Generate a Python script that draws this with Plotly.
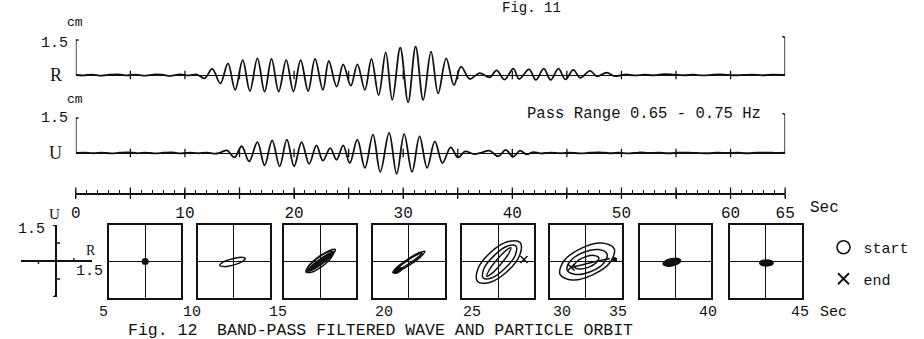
import plotly.graph_objects as go

# ---------------- data ----------------
R_T = [0, 0.7, 1.5, 2.3, 3.1, 3.9, 4.7, 5.5, 6.3, 7.1, 7.9, 8.7, 9.5, 10.3, 11.1,
       11.8, 12.5, 13.24, 13.94, 14.6, 15.29, 15.95, 16.64, 17.3, 17.93, 18.59, 19.28,
       19.94, 20.6, 21.29, 21.92, 22.64, 23.18, 23.9, 24.5, 25.2, 25.8, 26.49, 27.09,
       27.75, 28.4, 29.0, 29.73, 30.45, 31.14, 31.83, 32.55, 33.2, 33.94, 34.65, 35.3,
       36.1, 37.0, 37.93, 38.56, 39.28, 40.09, 40.63, 41.53, 42.16, 42.88, 43.51, 44.23,
       44.86, 45.59, 46.22, 47.12, 47.75, 48.65,
       49.4, 50.3, 51.2, 52.1, 53.0, 53.9, 54.8, 55.7, 56.6, 57.5, 58.4, 59.3, 60.2,
       61.1, 62.0, 62.9, 63.8, 65.0]
R_CM = [0.0, -0.02, 0.02, -0.03, 0.01, 0.03, -0.02, 0.02, -0.03, 0.02, 0.01, -0.04, 0.03, -0.02, 0.02,
        -0.14, 0.26, -0.36, 0.50, -0.64, 0.64, -0.69, 0.71, -0.71, 0.69, -0.71, 0.64,
        -0.71, 0.64, -0.69, 0.69, -0.64, 0.60, -0.50, 0.46, -0.46, 0.46, -0.64, 0.69,
        -0.86, 0.97, -1.07, 1.17, -1.17, 1.22, -1.07, 1.00, -0.79, 0.71, -0.43, 0.36,
        -0.17, 0.08, -0.10, 0.20, -0.20, 0.27, -0.17, 0.24, -0.21, 0.27, -0.21, 0.27,
        -0.19, 0.22, -0.12, 0.18, -0.06, 0.10,
        -0.05, 0.02, -0.02, 0.01, -0.01, 0.04, 0.02, -0.01, 0.01, -0.02, 0.01, 0.02, -0.01,
        0.0, 0.02, -0.01, 0.01, 0.0]

U_T = [0, 0.8, 1.6, 2.4, 3.2, 4.0, 4.8, 5.6, 6.4, 7.2, 8.0, 8.8, 9.6, 10.4, 11.2, 12.0, 12.8, 13.3,
       13.87, 14.53, 15.2, 15.88, 16.64, 17.3, 17.99, 18.68, 19.34, 20.0, 20.69, 21.38,
       22.05, 22.64, 23.31, 23.9, 24.5, 25.1, 25.8, 26.49, 27.23, 27.9, 28.71, 29.4,
       30.09, 30.81, 31.5, 32.19, 32.9, 33.6, 34.35, 35.02, 35.68, 36.5, 37.2,
       37.9, 38.7, 39.4, 40.06, 40.7, 41.3, 41.9, 42.6,
       43.5, 44.4, 45.3, 46.2, 47.1, 48.0, 48.9, 49.8, 50.7, 51.6, 52.5, 53.4, 54.3,
       55.2, 56.1, 57.0, 57.9, 58.8, 59.7, 60.6, 61.5, 62.4, 63.3, 64.2, 65.0]
U_CM = [0.0, 0.02, -0.01, 0.02, -0.02, 0.01, 0.03, -0.01, 0.02, -0.02, 0.01, 0.03, -0.02, 0.02, -0.01, 0.02, -0.03, 0.03,
        0.11, -0.19, 0.29, -0.36, 0.47, -0.53, 0.54, -0.57, 0.57, -0.57, 0.47, -0.47,
        0.33, -0.33, 0.21, -0.29, 0.33, -0.43, 0.57, -0.64, 0.79, -0.81, 0.86, -0.90,
        0.81, -0.81, 0.71, -0.64, 0.50, -0.43, 0.24, -0.19, 0.07, -0.05, 0.02,
        0.10, -0.14, 0.13, -0.16, 0.10, -0.06, 0.04, -0.02,
        0.02, -0.01, 0.02, -0.02, 0.01, 0.03, -0.01, 0.01, -0.02, 0.02, 0.0, 0.01, -0.01,
        0.01, 0.02, 0.0, -0.01, 0.01, 0.0, 0.01, -0.01, 0.01, 0.02, 0.0, 0.01]

TIME_TICKS = [0, 5, 10, 15, 20, 25, 30, 35, 40, 45, 50, 55, 60, 65]
TIME_TICK_TEXT = ["0", "", "10", "", "20", "", "30", "", "40", "", "50", "", "60", "65"]
TIME_MARKS = [5, 10, 15, 20, 25, 30, 35, 40, 45, 50, 55, 60]
SCALE_CM = 1.5
T_END = 65
ORBIT_TIME_TEXT = ["5", "10", "15", "20", "25", "30", "35", "40", "45"]

# particle orbits (R, U in cm), one list of loops per 5-s window
SQ1 = [([0.0], [0.0])]
SQ2 = [([0.48, 0.30, -0.08, -0.45, -0.58, -0.40, -0.02, 0.35, 0.48],
        [0.12, 0.17, 0.10, -0.03, -0.16, -0.21, -0.15, -0.01, 0.12])]
SQ3 = [([0.63, 0.39, -0.07, -0.47, -0.59, -0.35, 0.11, 0.51, 0.63],
        [0.49, 0.45, 0.17, -0.18, -0.39, -0.35, -0.07, 0.28, 0.49]),
       ([0.53, 0.34, -0.05, -0.41, -0.53, -0.34, 0.05, 0.41, 0.53],
        [0.38, 0.32, 0.07, -0.22, -0.38, -0.32, -0.07, 0.22, 0.38]),
       ([0.55, 0.30, -0.14, -0.50, -0.59, -0.34, 0.10, 0.46, 0.55],
        [0.39, 0.39, 0.14, -0.20, -0.43, -0.43, -0.18, 0.16, 0.39])]
SQ4 = [([0.67, 0.43, -0.07, -0.52, -0.67, -0.43, 0.07, 0.52, 0.67],
        [0.42, 0.36, 0.08, -0.26, -0.46, -0.40, -0.12, 0.22, 0.42]),
       ([0.56, 0.36, -0.07, -0.47, -0.62, -0.42, 0.01, 0.41, 0.56],
        [0.35, 0.28, 0.03, -0.26, -0.41, -0.34, -0.09, 0.20, 0.35]),
       ([-0.62, -0.40, -0.28, -0.50, -0.62],
        [-0.45, -0.25, -0.30, -0.47, -0.45])]
SQ5 = [([0.91, 0.41, -0.33, -0.86, -0.87, -0.37, 0.37, 0.90, 0.91],
        [0.78, 0.82, 0.37, -0.32, -0.82, -0.86, -0.41, 0.28, 0.78]),
       ([0.73, 0.36, -0.19, -0.61, -0.63, -0.26, 0.29, 0.71, 0.73],
        [0.64, 0.63, 0.23, -0.31, -0.68, -0.67, -0.27, 0.27, 0.64]),
       ([0.52, 0.31, -0.07, -0.40, -0.48, -0.27, 0.11, 0.44, 0.52],
        [0.57, 0.45, 0.06, -0.38, -0.61, -0.49, -0.10, 0.34, 0.57])]
SQ6 = [([1.18, 0.67, -0.20, -0.93, -1.08, -0.57, 0.30, 1.03, 1.18],
        [0.53, 0.76, 0.54, 0.01, -0.53, -0.76, -0.54, -0.01, 0.53]),
       ([0.88, 0.53, -0.11, -0.65, -0.78, -0.43, 0.21, 0.75, 0.88],
        [0.32, 0.49, 0.37, 0.02, -0.36, -0.53, -0.41, -0.06, 0.32]),
       ([0.54, 0.33, -0.06, -0.40, -0.50, -0.29, 0.10, 0.44, 0.54],
        [0.16, 0.25, 0.18, -0.02, -0.22, -0.31, -0.24, -0.04, 0.16]),
       ([-0.62, 0.20, 1.00], [-0.24, -0.05, 0.12])]
SQ7 = [([0.22, 0.10, -0.17, -0.43, -0.52, -0.40, -0.13, 0.13, 0.22],
        [0.04, 0.12, 0.11, 0.02, -0.10, -0.18, -0.17, -0.08, 0.04])]
SQ8 = [([0.30, 0.22, 0.02, -0.18, -0.26, -0.18, 0.02, 0.22, 0.30],
        [-0.06, 0.03, 0.06, 0.03, -0.06, -0.15, -0.18, -0.15, -0.06])]
SQUARES = [SQ1, SQ2, SQ3, SQ4, SQ5, SQ6, SQ7, SQ8]
END_SQ = [4, 5]            # square index of each "end" mark
END_R = [1.07, -0.62]
END_U = [0.08, -0.24]
START_SQ = [5]
START_R = [1.20]
START_U = [0.08]

# ---------------- layout (pixels) ----------------
W, H = 924, 339
T0_PX, T1_PX = 72, 793
PX_PER_CM = 23.3
R_ZERO_PX, U_ZERO_PX = 75, 153
AXIS_PX = 193
SQ_LEFT_PX = [106, 196, 284, 374, 465, 554, 645, 737]
SQ_SIZE, SQ_TOP = 73, 225
ORBIT_LABEL_PX = [100, 190, 278, 385, 475, 566, 623, 715, 808]
ORBIT_LABEL_Y = 312
FILLED = {(2, 1), (3, 2), (6, 0), (7, 0)}
INK = "#111111"
MONO = "Liberation Mono"
SERIF = "Liberation Serif"


def xd(p0, p1):
    return [p0 / W, p1 / W]


def yd(p0, p1):
    return [1 - p1 / H, 1 - p0 / H]


hidden = dict(showgrid=False, showticklabels=False, ticks="", showline=False,
              zeroline=False, fixedrange=True)

fig = go.Figure()
layout = {}

# --- R and U traces ---
for i, (name, tt, vv, zero_px, top_px, bot_px) in enumerate(
        [("R", R_T, R_CM, R_ZERO_PX, 15, 112), ("U", U_T, U_CM, U_ZERO_PX, 113, 186)]):
    xa = "xaxis" if i == 0 else "xaxis2"
    ya = "yaxis" if i == 0 else "yaxis2"
    xr = "x" if i == 0 else "x2"
    yr = "y" if i == 0 else "y2"
    layout[xa] = dict(hidden, domain=xd(T0_PX, T1_PX), range=[0, T_END], anchor=yr)
    layout[ya] = dict(hidden, domain=yd(top_px, bot_px), anchor=xr,
                      range=[-(bot_px - zero_px) / PX_PER_CM, (zero_px - top_px) / PX_PER_CM],
                      zeroline=True, zerolinecolor=INK, zerolinewidth=1.3)
    fig.add_trace(go.Scatter(x=tt, y=vv, mode="lines", xaxis=xr, yaxis=yr,
                             line=dict(color=INK, width=1.8, shape="spline", smoothing=1.0),
                             showlegend=False, hoverinfo="skip", cliponaxis=False))
    fig.add_trace(go.Scatter(x=TIME_MARKS, y=[0] * len(TIME_MARKS), mode="markers",
                             xaxis=xr, yaxis=yr, showlegend=False, hoverinfo="skip",
                             marker=dict(symbol="line-ns", size=6, color=INK,
                                         line=dict(color=INK, width=1.3))))
    top_r = SCALE_CM * (1.0 if i == 0 else 1.03)
    fig.add_trace(go.Scatter(x=[0.25, 0, 0], y=[SCALE_CM, SCALE_CM, 0], mode="lines",
                             xaxis=xr, yaxis=yr, showlegend=False, hoverinfo="skip",
                             cliponaxis=False, line=dict(color=INK, width=1.5)))
    fig.add_trace(go.Scatter(x=[T_END - 0.25, T_END, T_END],
                             y=[top_r * 1.1, top_r * 1.07, 0], mode="lines",
                             xaxis=xr, yaxis=yr, showlegend=False, hoverinfo="skip",
                             cliponaxis=False, line=dict(color=INK, width=1.5)))

# --- time axis ---
layout["xaxis3"] = dict(domain=xd(T0_PX, T1_PX), range=[0, T_END], anchor="y3",
                        showgrid=False, zeroline=False, showline=True, linecolor=INK,
                        linewidth=1.5, ticks="outside", ticklen=4, tickwidth=1.3,
                        tickcolor=INK, tickvals=TIME_TICKS, ticktext=TIME_TICK_TEXT,
                        tickfont=dict(family=MONO, size=16, color=INK),
                        minor=dict(ticks="inside", dtick=1, ticklen=3, tickwidth=1,
                                   tickcolor=INK, showgrid=False),
                        fixedrange=True)
layout["yaxis3"] = dict(hidden, domain=yd(180, AXIS_PX), range=[0, 1], anchor="x3")
fig.add_trace(go.Scatter(x=TIME_TICKS, y=[0] * len(TIME_TICKS), mode="markers",
                         xaxis="x3", yaxis="y3", showlegend=False, hoverinfo="skip",
                         cliponaxis=False,
                         marker=dict(symbol="line-ns", size=8, color=INK,
                                     line=dict(color=INK, width=1.3))))

# --- orbit squares ---
for k, loops in enumerate(SQUARES):
    n = 4 + k
    xa, ya = f"xaxis{n}", f"yaxis{n}"
    xr, yr = f"x{n}", f"y{n}"
    box = dict(showgrid=False, showticklabels=False, ticks="", showline=True, mirror=True,
               linecolor=INK, linewidth=1.6, zeroline=True, zerolinecolor=INK,
               zerolinewidth=1.3, range=[-SCALE_CM, SCALE_CM], fixedrange=True)
    layout[xa] = dict(box, domain=xd(SQ_LEFT_PX[k], SQ_LEFT_PX[k] + SQ_SIZE), anchor=yr)
    layout[ya] = dict(box, domain=yd(SQ_TOP, SQ_TOP + SQ_SIZE), anchor=xr)
    for j, (rr, uu) in enumerate(loops):
        if len(rr) == 1:
            fig.add_trace(go.Scatter(x=rr, y=uu, mode="markers", xaxis=xr, yaxis=yr,
                                     showlegend=False, hoverinfo="skip",
                                     marker=dict(color=INK, size=7)))
            continue
        filled = (k, j) in FILLED
        fig.add_trace(go.Scatter(x=rr, y=uu, mode="lines", xaxis=xr, yaxis=yr,
                                 showlegend=False, hoverinfo="skip",
                                 fill="toself" if filled else None,
                                 fillcolor=INK if filled else None,
                                 line=dict(color=INK, width=1.5, shape="spline", smoothing=1.0)))
    for s, r, u in zip(END_SQ, END_R, END_U):
        if s == k:
            fig.add_trace(go.Scatter(x=[r], y=[u], mode="markers", xaxis=xr, yaxis=yr,
                                     showlegend=False, hoverinfo="skip",
                                     marker=dict(symbol="x-thin-open", size=7, color=INK,
                                                 line=dict(color=INK, width=1.5))))
    for s, r, u in zip(START_SQ, START_R, START_U):
        if s == k:
            fig.add_trace(go.Scatter(x=[r], y=[u], mode="markers", xaxis=xr, yaxis=yr,
                                     showlegend=False, hoverinfo="skip",
                                     marker=dict(symbol="circle", size=5, color=INK)))

# --- orbit reference axes (left) ---
layout["xaxis12"] = dict(hidden, domain=xd(16, 88), range=[-SCALE_CM, SCALE_CM], anchor="y12",
                         zeroline=True, zerolinecolor=INK, zerolinewidth=1.5)
layout["yaxis12"] = dict(hidden, domain=yd(SQ_TOP, SQ_TOP + 72), range=[-SCALE_CM, SCALE_CM],
                         anchor="x12", zeroline=True, zerolinecolor=INK, zerolinewidth=1.5)
half = SCALE_CM / 2
tk = 0.13
fig.add_trace(go.Scatter(
    x=[-half, -half, None, half, half, None, 0, tk * 1.3, None, 0, tk * 1.3, None,
       -tk, 0, None, -tk, 0],
    y=[0, -tk, None, 0, tk, None, half, half, None, -half, -half, None,
       SCALE_CM, SCALE_CM - 0.05, None, -SCALE_CM, -SCALE_CM + 0.08],
    mode="lines", xaxis="x12", yaxis="y12", showlegend=False, hoverinfo="skip",
    cliponaxis=False, line=dict(color=INK, width=1.4)))

# --- legend: start / end ---
fig.add_trace(go.Scatter(x=[None], y=[None], mode="markers", name="start",
                         xaxis="x12", yaxis="y12", legendgroup="a",
                         marker=dict(symbol="circle-open", size=13, color=INK,
                                     line=dict(color=INK, width=1.6))))
fig.add_trace(go.Scatter(x=[None], y=[None], mode="markers", name="end",
                         xaxis="x12", yaxis="y12", legendgroup="b",
                         marker=dict(symbol="x-thin-open", size=11, color=INK,
                                     line=dict(color=INK, width=1.8))))

# --- annotations ---
ann = []


def text(t, x_px, y_px, size, family=MONO, xanchor="center"):
    ann.append(dict(text=t, x=x_px / W, y=1 - y_px / H, xref="paper", yref="paper",
                    xanchor=xanchor, yanchor="middle", showarrow=False,
                    font=dict(family=family, size=size, color=INK)))


text("cm", 71, 22, 13)
text("1.5", 50, 43, 15)
text("R", 52, 75, 18, SERIF)
text("cm", 71, 100, 13)
text("1.5", 50, 119, 15)
text("U", 51, 153, 18, SERIF)
text("Pass Range 0.65 - 0.75 Hz", 529, 114, 15.6, MONO, "left")
text("Sec", 833, 208, 16)
text("U", 50, 214, 15, SERIF)
text("1.5", 27, 229, 15)
text("R", 87, 250, 14, SERIF)
text("1.5", 86, 271, 15)
for lab, xp in zip(ORBIT_TIME_TEXT, ORBIT_LABEL_PX):
    text(lab, xp, ORBIT_LABEL_Y, 15)
text("Sec", 842, ORBIT_LABEL_Y, 15)
text("Fig. 11", 503, 8, 14, MONO, "left")
text("Fig. 12  BAND-PASS FILTERED WAVE AND PARTICLE ORBIT", 382, 330, 16.5)

fig.update_layout(
    width=W, height=H, margin=dict(l=0, r=0, t=0, b=0),
    paper_bgcolor="white", plot_bgcolor="rgba(0,0,0,0)",
    annotations=ann,
    legend=dict(x=832 / W, y=1 - 231 / H, xanchor="left", yanchor="top",
                font=dict(family=MONO, size=15, color=INK), bgcolor="rgba(0,0,0,0)",
                tracegroupgap=9, itemwidth=30),
    **layout,
)

fig.write_html("out.html")
